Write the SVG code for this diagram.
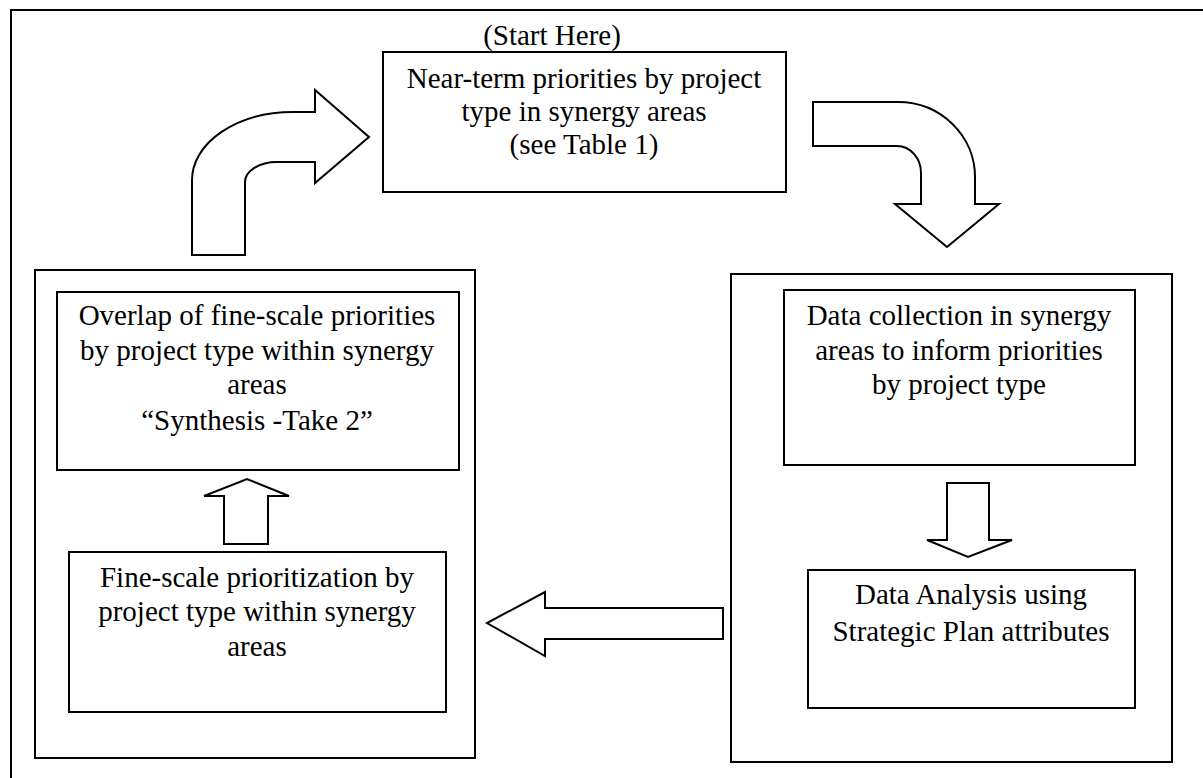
<svg xmlns="http://www.w3.org/2000/svg" width="1203" height="778" viewBox="0 0 1203 778">
<style>
.b{fill:#fff;stroke:#000;stroke-width:2}
.a{fill:#fff;stroke:#000;stroke-width:2;stroke-linejoin:miter}
text{font-family:"Liberation Serif","Times New Roman",serif;font-size:29px;fill:#000;text-anchor:middle}
</style>
<rect width="1203" height="778" fill="#fff"/>
<path d="M11 778 V10 H1203" fill="none" stroke="#000" stroke-width="2"/>
<g id="left-group"><rect class="b" x="35" y="270" width="440" height="488"/></g>
<g id="right-group"><rect class="b" x="731" y="274" width="441" height="488"/></g>
<g id="start-label"><text x="552" y="45">(Start Here)</text></g>
<g id="near-term">
<rect class="b" x="383" y="52" width="403" height="140"/>
<text x="584" y="88">Near-term priorities by project</text>
<text x="584" y="121">type in synergy areas</text>
<text x="584" y="154">(see Table 1)</text>
</g>
<g id="data-collection">
<rect class="b" x="784" y="290" width="351" height="175"/>
<text x="959" y="325">Data collection in synergy</text>
<text x="959" y="360">areas to inform priorities</text>
<text x="959" y="394">by project type</text>
</g>
<g id="data-analysis">
<rect class="b" x="808" y="570" width="327" height="138"/>
<text x="971" y="604">Data Analysis using</text>
<text x="971" y="641">Strategic Plan attributes</text>
</g>
<g id="fine-scale">
<rect class="b" x="69" y="552" width="377" height="160"/>
<text x="257" y="587">Fine-scale prioritization by</text>
<text x="257" y="621">project type within synergy</text>
<text x="257" y="656">areas</text>
</g>
<g id="overlap">
<rect class="b" x="57" y="292" width="402" height="178"/>
<text x="257" y="325">Overlap of fine-scale priorities</text>
<text x="257" y="360">by project type within synergy</text>
<text x="257" y="394">areas</text>
<text x="257" y="430">“Synthesis -Take 2”</text>
</g>
<g id="connectors">
<path class="a" d="M192 255 V180 A101 68 0 0 1 293 112 H315 V90 L369 137 L315 183 V162 H277 A32 20 0 0 0 245 182 V255 Z"/>
<path class="a" d="M813 102 H898 A77 75 0 0 1 975 177 V204 H999 L947 247 L895 204 H921 V173 A24 27 0 0 0 897 146 H813 Z"/>
<path class="a" d="M947 483 H989 V540 H1012 L968 557 L927 540 H947 Z"/>
<path class="a" d="M224 544 V496 H204 L247 479 L289 496 H268 V544 Z"/>
<path class="a" d="M723 608 H545 V592 L487 623 L545 656 V639 H723 Z"/>
</g>
</svg>
